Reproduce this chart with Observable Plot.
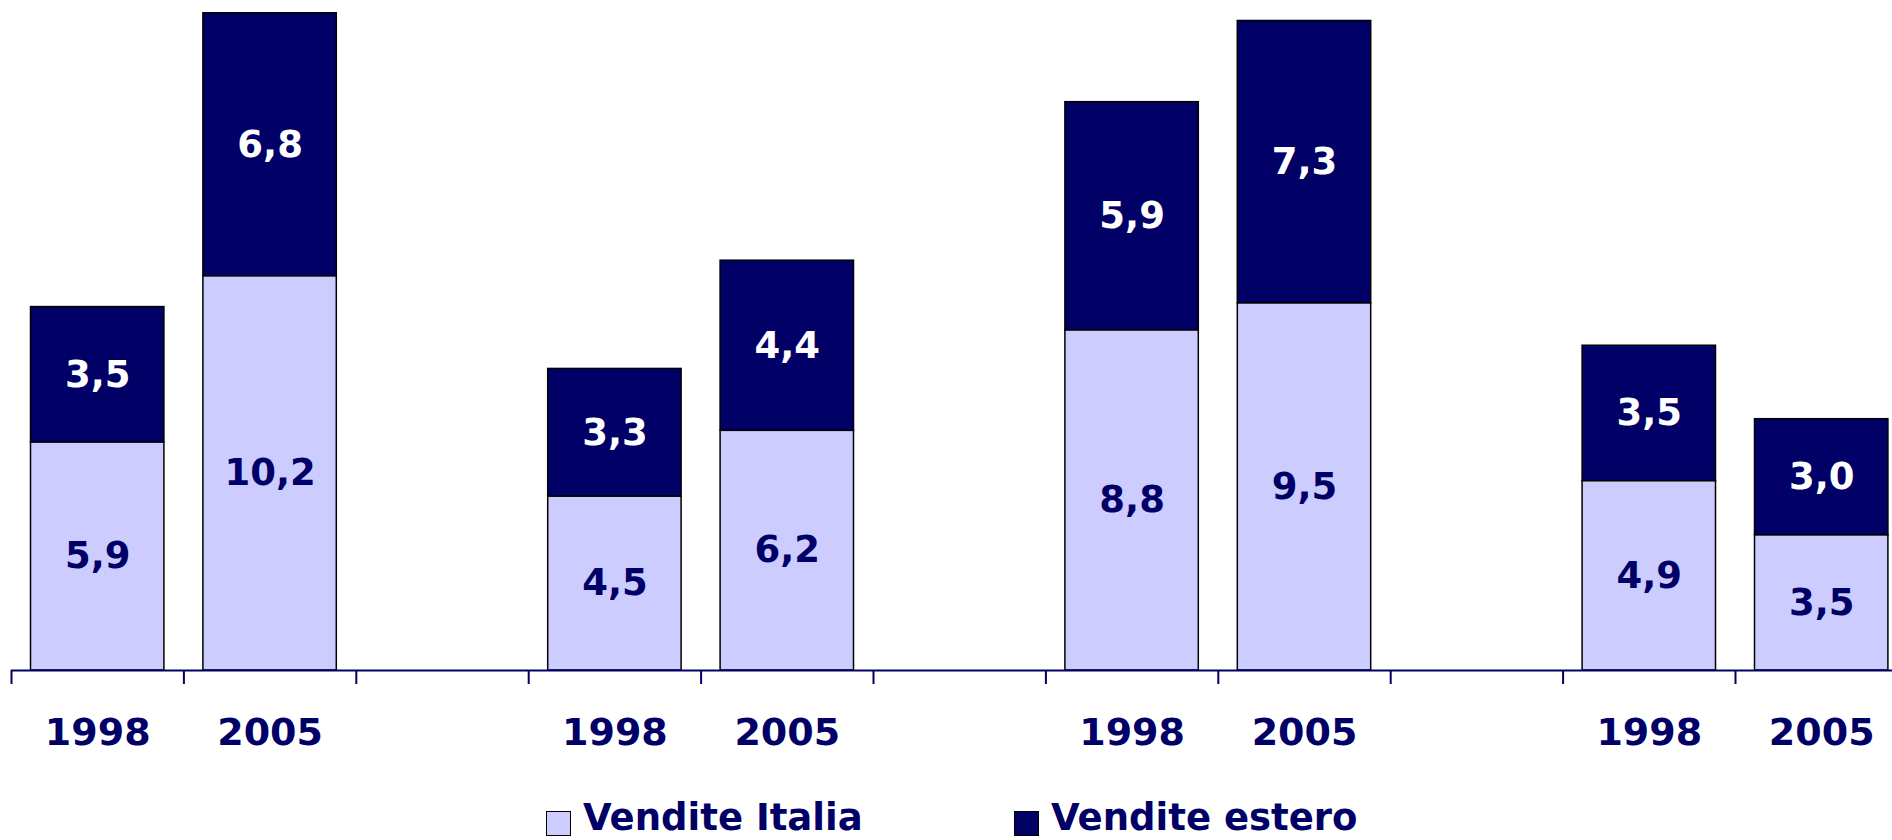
<!DOCTYPE html>
<html>
<head>
<meta charset="utf-8">
<script src="https://cdn.jsdelivr.net/npm/d3@7"></script>
<script src="https://cdn.jsdelivr.net/npm/@observablehq/plot@0.6"></script>
<style>
  html, body { margin: 0; padding: 0; background: #fff; }
  body { width: 1892px; height: 840px; overflow: hidden; font-family: "DejaVu Sans", Verdana, sans-serif; }
  #legend { position: relative; height: 36px; font-weight: bold; font-size: 37px; color: #000066; }
  .item { display: flex; align-items: center; position: absolute; top: 0; height: 36px; line-height: 36px; }
  .sw { width: 23px; height: 23px; border: 1.5px solid #000; margin-right: 12px; }
  .lab { position: relative; top: -5px; }
</style>
</head>
<body>
<div id="chart"></div>
<div id="legend"></div>
<script>
// Data
const years = ["1998", "2005"];
const groupCount = 4;
const italia = [5.9, 10.2, 4.5, 6.2, 8.8, 9.5, 4.9, 3.5];
const estero = [3.5, 6.8, 3.3, 4.4, 5.9, 7.3, 3.5, 3.0];
const seriesNames = ["Vendite Italia", "Vendite estero"];
const colors = ["#CCCCFF", "#000066"];
const navy = "#000066";

// Each group takes 2 bar slots plus one empty slot
const rows = italia.map((v, i) => {
  const g = Math.floor(i / 2), j = i % 2;
  return { slot: g * 3 + j, year: years[j], italia: v, estero: estero[i] };
});
const nSlots = groupCount * 3 - 1;

const chart = Plot.plot({
  width: 1892,
  height: 805,
  marginTop: 0,
  marginBottom: 135,
  marginLeft: 0,
  marginRight: 0,
  style: { fontFamily: "'DejaVu Sans', Verdana, sans-serif", fontWeight: "bold", background: "#fff" },
  x: { domain: [0, nSlots], range: [11, 11 + nSlots * 172.4], axis: null },
  y: { domain: [0, 17.33], axis: null },
  marks: [
    Plot.rectY(rows, { x1: "slot", x2: d => d.slot + 1, y1: 0, y2: "italia", fill: colors[0], stroke: "#000", strokeWidth: 1.5, insetLeft: 19.5, insetRight: 19.5 }),
    Plot.rectY(rows, { x1: "slot", x2: d => d.slot + 1, y1: "italia", y2: d => d.italia + d.estero, fill: colors[1], stroke: "#000", strokeWidth: 1.5, insetLeft: 19.5, insetRight: 19.5 }),
    Plot.ruleY([0], { x1: 0, x2: nSlots, stroke: navy, strokeWidth: 2 }),
    Plot.axisX({ ticks: d3.range(0, nSlots + 1), tickSize: 14, tickFormat: () => "", label: null, stroke: navy, strokeWidth: 2, strokeOpacity: 1 }),
    Plot.text(rows, { x: d => d.slot + 0.5, y: 0, text: "year", dy: 62, fill: navy, fontSize: 38, fontWeight: "bold", lineAnchor: "middle" }),
    Plot.text(rows, { x: d => d.slot + 0.5, y: d => d.italia / 2, text: d => d.italia.toFixed(1).replace(".", ","), fill: navy, fontSize: 37, fontWeight: "bold", lineAnchor: "middle" }),
    Plot.text(rows, { x: d => d.slot + 0.5, y: d => d.italia + d.estero / 2, text: d => d.estero.toFixed(1).replace(".", ","), fill: "#fff", fontSize: 37, fontWeight: "bold", lineAnchor: "middle" })
  ]
});
document.getElementById("chart").appendChild(chart);

// Legend
const legend = document.getElementById("legend");
const legendX = [546, 1014];
seriesNames.forEach((name, i) => {
  const item = document.createElement("div");
  item.className = "item";
  item.style.left = legendX[i] + "px";
  const sw = document.createElement("div");
  sw.className = "sw";
  sw.style.background = colors[i];
  const label = document.createElement("span");
  label.className = "lab";
  label.textContent = name;
  item.appendChild(sw);
  item.appendChild(label);
  legend.appendChild(item);
});
</script>
</body>
</html>
